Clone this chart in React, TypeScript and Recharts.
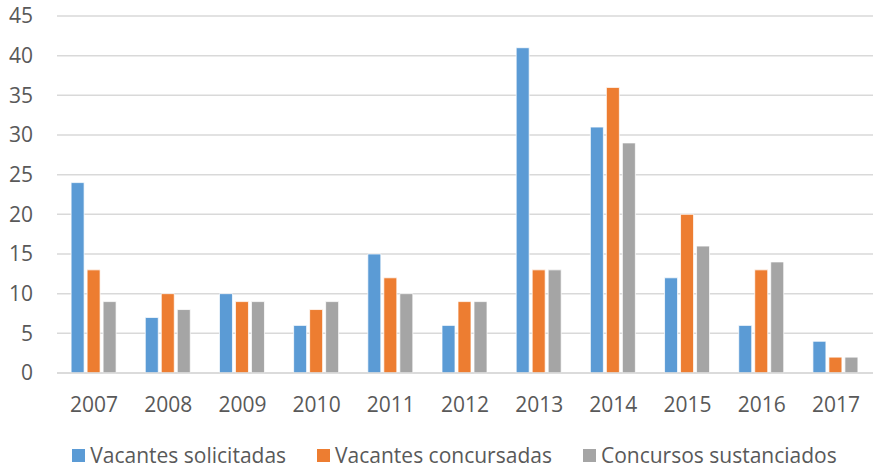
import React from "react";
import { BarChart, Bar, XAxis, YAxis, CartesianGrid, Legend } from "recharts";

const years = ["2007", "2008", "2009", "2010", "2011", "2012", "2013", "2014", "2015", "2016", "2017"];
const vacantesSolicitadas = [24, 7, 10, 6, 15, 6, 41, 31, 12, 6, 4];
const vacantesConcursadas = [13, 10, 9, 8, 12, 9, 13, 36, 20, 13, 2];
const concursosSustanciados = [9, 8, 9, 9, 10, 9, 13, 29, 16, 14, 2];
const yTicks = [0, 5, 10, 15, 20, 25, 30, 35, 40, 45];

const seriesNames = ["Vacantes solicitadas", "Vacantes concursadas", "Concursos sustanciados"];
const seriesColors = ["#5B9BD5", "#ED7D31", "#A5A5A5"];

const data = years.map((y, i) => ({
  year: y,
  s: vacantesSolicitadas[i],
  c: vacantesConcursadas[i],
  t: concursosSustanciados[i],
}));

const FONT = "'Open Sans', 'Liberation Sans', Arial, sans-serif";
const TEXT = "#595959";

const LegendContent = () => (
  <div
    style={{
      display: "flex",
      justifyContent: "center",
      alignItems: "center",
      height: 28,
      lineHeight: "28px",
      fontFamily: FONT,
      fontSize: 21,
      color: TEXT,
      gap: 31,
      paddingLeft: 36,
      whiteSpace: "nowrap",
      overflow: "visible",
    }}
  >
    {seriesNames.map((n, i) => (
      <div key={n} style={{ display: "flex", alignItems: "center", height: 28 }}>
        <span style={{ display: "inline-block", width: 13, height: 13, background: seriesColors[i], marginRight: 5 }} />
        <span style={{ lineHeight: "28px" }}>{n}</span>
      </div>
    ))}
  </div>
);

export default function App() {
  return (
    <div style={{ position: "absolute", left: 0, top: 0, width: 873, height: 469, background: "#fff" }}>
      <BarChart
        width={873}
        height={469}
        data={data}
        margin={{ top: 16, right: 0, left: 0, bottom: 0 }}
        barGap={3}
        barCategoryGap="19%"
      >
        <CartesianGrid vertical={false} stroke="#D9D9D9" strokeWidth={1.5} />
        <XAxis
          dataKey="year"
          height={68}
          tickLine={false}
          tickSize={0}
          tickMargin={24}
          axisLine={{ stroke: "#D9D9D9", strokeWidth: 1.5 }}
          tick={{ fill: TEXT, fontSize: 21, fontFamily: FONT }}
          interval={0}
        />
        <YAxis
          width={57}
          domain={[0, 45]}
          ticks={yTicks}
          interval={0}
          axisLine={false}
          tickLine={false}
          tickSize={0}
          tickMargin={24}
          tick={{ fill: TEXT, fontSize: 21, fontFamily: FONT }}
        />
        <Legend verticalAlign="bottom" height={28} content={<LegendContent />} />
        <Bar dataKey="s" name={seriesNames[0]} fill={seriesColors[0]} stroke="#ffffff" strokeWidth={0.75} isAnimationActive={false} />
        <Bar dataKey="c" name={seriesNames[1]} fill={seriesColors[1]} stroke="#ffffff" strokeWidth={0.75} isAnimationActive={false} />
        <Bar dataKey="t" name={seriesNames[2]} fill={seriesColors[2]} stroke="#ffffff" strokeWidth={0.75} isAnimationActive={false} />
      </BarChart>
    </div>
  );
}
